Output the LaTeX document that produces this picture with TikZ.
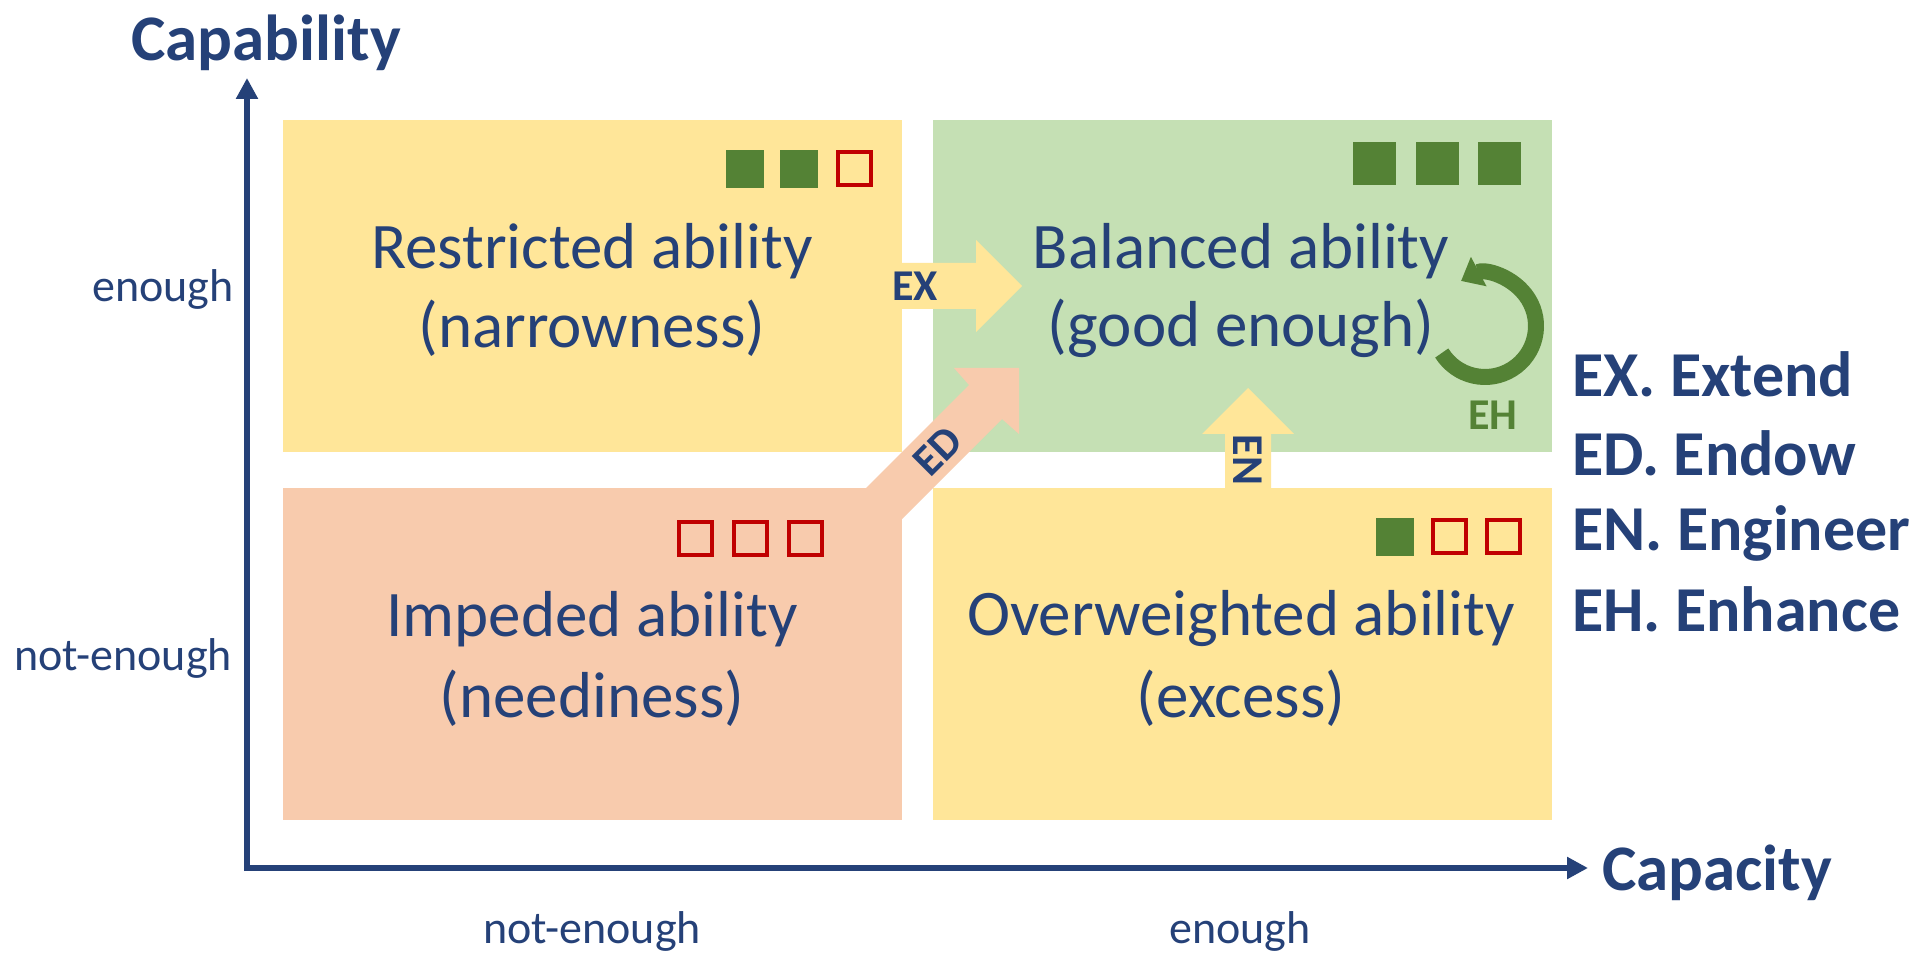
\documentclass[tikz,border=0pt]{standalone}
\usepackage{fontspec}
\setmainfont{Carlito}
\usetikzlibrary{arrows.meta}
\definecolor{tblue}{RGB}{37,65,120}
\definecolor{qyellow}{HTML}{FFE699}
\definecolor{qgreen}{HTML}{C5E0B4}
\definecolor{qsalmon}{HTML}{F8CBAD}
\definecolor{dgreen}{HTML}{548235}
\definecolor{dred}{HTML}{C00000}
\begin{document}
\begin{tikzpicture}[x=1pt,y=1pt,
  quad/.style={draw=none,inner sep=0pt,outer sep=0pt,minimum width=619pt,minimum height=332pt},
  qtext/.style={inner sep=0pt,text=tblue,font=\fontsize{65}{78}\selectfont},
  axlab/.style={inner sep=0pt,text=tblue,font=\fontsize{65}{78}\selectfont\bfseries},
  ticklab/.style={inner sep=0pt,text=tblue,font=\fontsize{46}{55}\selectfont},
  leglab/.style={inner sep=0pt,anchor=west,text=tblue,font=\fontsize{64}{77}\selectfont\bfseries},
  arrlab/.style={inner sep=0pt,text=tblue,font=\fontsize{44}{53}\selectfont\bfseries},
  axisline/.style={draw=tblue,line width=6pt,-{Triangle[length=21pt,width=21pt]}},
  gsq/.style={fill=dgreen},
  rsq/.style={draw=dred,line width=3.5pt}
]
\useasboundingbox (0,0) rectangle (1921,961);
\fill[white] (0,0) rectangle (1921,961);

% quadrants
\node[quad,fill=qyellow] (tl) at (592.5,675) {};
\node[quad,fill=qgreen] (tr) at (1242,675) {};
\node[quad,fill=qsalmon] (bl) at (592.5,307) {};
\node[quad,fill=qyellow] (br) at (1242,307) {};

% block arrows
\fill[qyellow] (885,652) -- (976,652) -- (976,629) -- (1022,675) -- (976,721) -- (976,698) -- (885,698) -- cycle;
\fill[qsalmon] (839,446) -- (969,576) -- (954,593) -- (1019,593) -- (1019,527) -- (1002,542) -- (872,412) -- cycle;
\fill[qyellow] (1225,450) -- (1225,527) -- (1202,527) -- (1248,573) -- (1294,527) -- (1271,527) -- (1271,450) -- cycle;

\node[arrlab] (ex) at (915,675) {EX};
\node[arrlab,rotate=45] (ed) at (937.5,510) {ED};
\node[arrlab,rotate=-90] (en) at (1247.5,501) {EN};

% circular arrow
\coordinate (ehc) at (1485,635);
\draw[dgreen,line width=16pt,-{Triangle[length=20pt,width=32pt]}] ([shift={(212:51)}]ehc) arc[start angle=212,end angle=478,radius=51];
\node[arrlab,text=dgreen] (eh) at (1493,545.5) {EH};

% quadrant texts
\node[qtext] (tl1) at (592,710) {Restricted ability};
\node[qtext] (tl2) at (592,633) {(narrowness)};
\node[qtext] (tr1) at (1241,710) {Balanced ability};
\node[qtext] (tr2) at (1241,633) {(good enough)};
\node[qtext] (bl1) at (592,342) {Impeded ability};
\node[qtext] (bl2) at (592,263) {(neediness)};
\node[qtext] (br1) at (1241,342) {Overweighted ability};
\node[qtext] (br2) at (1241,263) {(excess)};

% squares
\fill[gsq] (726,773) rectangle (764,811);
\fill[gsq] (780,773) rectangle (818,811);
\draw[rsq] (838,776) rectangle (871,809);
\fill[gsq] (1353,776) rectangle (1396,819);
\fill[gsq] (1416,776) rectangle (1459,819);
\fill[gsq] (1478,776) rectangle (1521,819);
\draw[rsq] (679,406) rectangle (712,439);
\draw[rsq] (734,406) rectangle (767,439);
\draw[rsq] (789,406) rectangle (822,439);
\fill[gsq] (1376,405) rectangle (1414,443);
\draw[rsq] (1433,408) rectangle (1466,441);
\draw[rsq] (1487,408) rectangle (1520,441);

% axes
\coordinate (ystart) at (247,90);
\coordinate (ytip) at (247,883);
\coordinate (xstart) at (244,93);
\coordinate (xtip) at (1588,93);
\draw[axisline] (ystart) -- (ytip);
\draw[axisline] (xstart) -- (xtip);

\node[axlab] (caplab) at (266,918) {Capability};
\node[axlab] (cpclab) at (1717,88) {Capacity};
\node[ticklab] (yen) at (163,672) {enough};
\node[ticklab] (ynen) at (123,303) {not-enough};
\node[ticklab] (xnen) at (592,30) {not-enough};
\node[ticklab] (xen) at (1240,30) {enough};

% legend
\node[leglab] (l1) at (1572,587) {EX. Extend};
\node[leglab] (l2) at (1572,508) {ED. Endow};
\node[leglab] (l3) at (1572,428) {EN. Engineer};
\node[leglab] (l4) at (1572,352) {EH. Enhance};
\end{tikzpicture}
\end{document}
